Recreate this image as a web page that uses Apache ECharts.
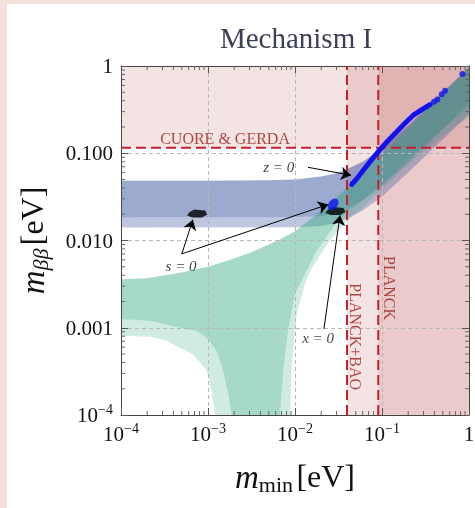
<!DOCTYPE html>
<html><head><meta charset="utf-8">
<script src="https://cdn.jsdelivr.net/npm/echarts@6/dist/echarts.min.js"></script>
<style>
html,body{margin:0;padding:0;background:#f3e1dd;width:475px;height:508px;overflow:hidden}
#c{position:absolute;left:7px;top:4px;width:468px;height:504px;background:#fff}
</style></head><body><div id="c"></div>
<script>
// ---------- axes / ticks ----------
const xTicks = [1e-4, 1e-3, 1e-2, 1e-1, 1];
const xTickLabels = ['10^-4', '10^-3', '10^-2', '10^-1', '1'];
const yTicks = [1e-4, 1e-3, 1e-2, 1e-1, 1];
const yTickLabels = ['10^-4', '0.001', '0.010', '0.100', '1'];
const minorFactors = [2, 3, 4, 5, 6, 7, 8, 9];
const decades = [1e-4, 1e-3, 1e-2, 1e-1];

// ---------- experimental limits ----------
const cuoreLimit = 0.116;      // m_bb upper limit (CUORE & GERDA)
const planckBaoLimit = 0.0396; // m_min limit (PLANCK+BAO)
const planckLimit = 0.0906;    // m_min limit (PLANCK)

// ---------- normal ordering band (green) ----------
const noTop = [[1e-4,0.0036],[2e-4,0.0037],[5e-4,0.0043],[1e-3,0.005],[2e-3,0.0062],[3e-3,0.0072],[5e-3,0.009],[7e-3,0.0105],[1e-2,0.0128],[1.5e-2,0.0175],[2e-2,0.022],[3e-2,0.031],[4e-2,0.041],[6e-2,0.06],[0.1,0.099],[0.2,0.195],[0.5,0.48],[1,0.95]];
const noDarkRight = [[0.0067,1e-4],[0.0073,3.2e-4],[0.0083,9.2e-4],[0.01,0.00246],[0.0114,0.0032],[0.0178,0.0077],[0.0274,0.0142],[0.039,0.021],[0.06,0.029],[0.1,0.045],[0.2,0.085],[0.5,0.19],[1,0.34]];
const noDarkLeft = [[1e-4,0.00126],[2.15e-4,0.0012],[4.77e-4,0.001],[7.4e-4,9.2e-4],[9.7e-4,7.7e-4],[1.26e-3,5.4e-4],[1.5e-3,3.2e-4],[1.71e-3,1.74e-4],[1.87e-3,1e-4]];
const noLightRight = [[0.0088,1e-4],[0.0092,3.9e-4],[0.0105,0.00145],[0.013,0.0032],[0.0149,0.0045],[0.025,0.01],[0.039,0.0163],[0.06,0.024],[0.095,0.0376],[0.227,0.083],[0.5,0.16],[1,0.26]];
const noLightLeft = [[1e-4,8.1e-4],[2.15e-4,7.9e-4],[3.35e-4,7.1e-4],[4.77e-4,5.9e-4],[6.7e-4,5.0e-4],[9.7e-4,3.2e-4],[1.1e-3,1.9e-4],[1.2e-3,1e-4]];

// ---------- inverted ordering band (blue) ----------
const ioTop = [[1e-4,0.0485],[1e-3,0.0485],[5e-3,0.049],[1e-2,0.05],[2e-2,0.054],[3e-2,0.059],[4e-2,0.066],[6e-2,0.08],[0.1,0.113],[0.2,0.21],[0.5,0.5],[1,0.97]];
const ioDarkBottom = [[1e-4,0.0185],[1e-2,0.0186],[2e-2,0.019],[3e-2,0.021],[4e-2,0.023],[6e-2,0.029],[0.1,0.042],[0.2,0.079],[0.5,0.19],[1,0.38]];
const ioLightBottom = [[1e-4,0.0141],[1e-2,0.0142],[2e-2,0.0147],[3e-2,0.016],[4e-2,0.018],[6e-2,0.022],[0.1,0.032],[0.2,0.06],[0.5,0.145],[1,0.28]];

// ---------- model points ----------
const zLine = [[0.0449,0.044],[0.052,0.052],[0.061,0.0638],[0.075,0.083],[0.0948,0.110],[0.12,0.143],[0.1476,0.176],[0.185,0.222],[0.229,0.273],[0.29,0.318],[0.356,0.36]];
const zDots = [[0.396,0.389],[0.432,0.414],[0.486,0.473],[0.53,0.52],[0.84,0.81]];
const blueBlob = [[0.0274,0.026]];
const blackBlobs = [[7.5e-4,0.0204],[0.0292,0.0218]];

// ---------- annotations ----------
const arrows = [
  [[0.0141,0.069],[0.044,0.056]],
  [[5.0e-4,0.00703],[6.7e-4,0.0173]],
  [[5.0e-4,0.00703],[0.024,0.0259]],
  [[0.0215,9.7e-4],[0.0329,0.0194]]
];
const arrowTexts = [['z = 0',6.5e-3,0.0683],['s = 0',4.9e-4,5.0e-3],['x = 0',0.0184,7.5e-4]];
const limitTexts = [['CUORE & GERDA',1.57e-3,0.141,0],['PLANCK+BAO',0.0476,7.9e-4,-90],['PLANCK',0.117,2.85e-3,-90]];

const FONT = '"Liberation Serif", "DejaVu Serif", serif';
function tex(s){
  const p = s.replace('-', '\u2212').split('^');
  return p.length > 1 ? '{b|' + p[0] + '}{e|' + p[1] + '}' : '{b|' + s + '}';
}
function fmt(ticks, labels){
  return function(v){
    const i = ticks.findIndex(t => Math.abs(Math.log10(t) - Math.log10(v)) < 1e-6);
    return i >= 0 ? tex(labels[i]) : '';
  };
}
const tickRich = {
  b: {fontSize: 21, fontFamily: FONT, color: '#111', lineHeight: 24, verticalAlign: 'bottom'},
  e: {fontSize: 14, fontFamily: FONT, color: '#111', lineHeight: 14, verticalAlign: 'top'}
};
function poly(points, color){
  return function(params, api){
    return {type: 'polygon', shape: {points: points.map(p => api.coord(p))}, style: {fill: color}};
  };
}
const rev = a => a.slice().reverse();
const noDark = noTop.concat(rev(noDarkRight), rev(noDarkLeft));
const noLight = noTop.concat(rev(noLightRight), rev(noLightLeft));
const ioDark = ioTop.concat(rev(ioDarkBottom));
const ioLight = ioTop.concat(rev(ioLightBottom));
const X0 = xTicks[0], X1 = xTicks[xTicks.length-1], Y0 = yTicks[0], Y1 = yTicks[yTicks.length-1];
const cuoreRegion = [[X0,cuoreLimit],[X1,cuoreLimit],[X1,Y1],[X0,Y1]];
const baoRegion = [[planckBaoLimit,Y0],[X1,Y0],[X1,Y1],[planckBaoLimit,Y1]];
const planckRegion = [[planckLimit,Y0],[X1,Y0],[X1,Y1],[planckLimit,Y1]];
const PINK = 'rgba(170,40,40,0.13)';

const minorVals = [];
decades.forEach(d => minorFactors.forEach(f => minorVals.push([f*d, f*d])));

function customPoly(points, color, z){
  return {type: 'custom', renderItem: poly(points, color), data: [[0.01, 0.01]], z: z, silent: true};
}
const redLine = {color: '#c4202a', width: 2, type: [10, 5]};

const axisCommon = {
  type: 'log', logBase: 10, min: 1e-4, max: 1, z: 5,
  axisLine: {show: true, lineStyle: {color: '#444', width: 1}},
  axisTick: {show: true, inside: true, length: 7, lineStyle: {color: '#555'}},
  splitLine: {show: false}
};
const nameRich = function(subItalic){
  return {
    i: {fontSize: 33, fontFamily: FONT, fontStyle: 'italic', color: '#111', lineHeight: 36},
    s: {fontSize: 22, fontFamily: FONT, fontStyle: subItalic ? 'italic' : 'normal', color: '#111', lineHeight: 22, verticalAlign: 'bottom'},
    n: {fontSize: 32, fontFamily: FONT, color: '#111', lineHeight: 36}
  };
};

const chart = echarts.init(document.getElementById('c'), null, {renderer: 'canvas'});
chart.setOption({
  animation: false,
  backgroundColor: '#fff',
  grid: {left: 114, top: 62, width: 348, height: 349, containLabel: false, outerBoundsMode: 'none'},
  graphic: [{type: 'text', x: 289, y: 36, style: {text: 'Mechanism I', font: '29px ' + FONT, fill: '#3d3f57', align: 'center', verticalAlign: 'middle'}}],
  xAxis: [
    Object.assign({}, axisCommon, {
      position: 'bottom',
      axisLabel: {formatter: fmt(xTicks, xTickLabels), rich: tickRich, margin: 7},
      splitLine: {show: true, lineStyle: {color: '#b8b8b8', type: [4, 3], width: 1}},
      name: '{i|m}{s|min} {n|[eV]}', nameLocation: 'middle', nameGap: 46,
      nameTextStyle: {rich: nameRich(false)}
    }),
    Object.assign({}, axisCommon, {position: 'top', axisLabel: {show: false}})
  ],
  yAxis: [
    Object.assign({}, axisCommon, {
      position: 'left',
      axisLabel: {formatter: fmt(yTicks, yTickLabels), rich: tickRich, margin: 8},
      splitLine: {show: true, lineStyle: {color: '#b8b8b8', type: [4, 3], width: 1}},
      name: '{i|m}{s|\u03b2\u03b2} {n|[eV]}', nameLocation: 'middle', nameGap: 68,
      nameTextStyle: {rich: nameRich(true)}
    }),
    Object.assign({}, axisCommon, {position: 'right', axisLabel: {show: false}})
  ],
  series: [
    customPoly(cuoreRegion, PINK, 1),
    customPoly(baoRegion, PINK, 1),
    customPoly(planckRegion, PINK, 1),
    customPoly(ioLight, 'rgba(40,70,150,0.30)', 2),
    customPoly(ioDark, 'rgba(40,70,150,0.22)', 2),
    customPoly(noLight, 'rgba(40,165,120,0.22)', 3),
    customPoly(noDark, 'rgba(40,165,120,0.25)', 3),
    {type: 'custom', silent: true, z: 6, data: minorVals, renderItem: function(params, api){
      const v = api.value(0);
      const b = api.coord([v, Y0]), t = api.coord([v, Y1]);
      const l = api.coord([X0, v]), r = api.coord([X1, v]);
      const st = {stroke: '#666', lineWidth: 1};
      return {type: 'group', children: [
        {type: 'line', shape: {x1: b[0], y1: b[1], x2: b[0], y2: b[1]-4}, style: st},
        {type: 'line', shape: {x1: t[0], y1: t[1], x2: t[0], y2: t[1]+4}, style: st},
        {type: 'line', shape: {x1: l[0], y1: l[1], x2: l[0]+4, y2: l[1]}, style: st},
        {type: 'line', shape: {x1: r[0], y1: r[1], x2: r[0]-4, y2: r[1]}, style: st}
      ]};
    }},
    {type: 'line', z: 7, symbol: 'none', silent: true, lineStyle: redLine, data: [[X0, cuoreLimit],[X1, cuoreLimit]]},
    {type: 'line', z: 7, symbol: 'none', silent: true, lineStyle: redLine, data: [[planckBaoLimit, Y0],[planckBaoLimit, Y1]]},
    {type: 'line', z: 7, symbol: 'none', silent: true, lineStyle: redLine, data: [[planckLimit, Y0],[planckLimit, Y1]]},
    {type: 'line', z: 10, symbol: 'none', silent: true, lineStyle: {color: '#1212f0', width: 5, cap: 'round'}, data: zLine},
    {type: 'scatter', z: 10, silent: true, symbol: 'circle', symbolSize: 6, itemStyle: {color: '#1212f0'}, data: zDots},
    {type: 'scatter', z: 10, silent: true, symbol: 'path://M2,3 L7,0 L18,1 L20,5 L15,8 L5,8 L0,6 Z', symbolSize: [20, 8], itemStyle: {color: '#000'}, data: blackBlobs},
    {type: 'scatter', z: 11, silent: true, symbol: 'circle', symbolSize: [9, 13], symbolRotate: -40, itemStyle: {color: '#1212f0'}, data: blueBlob},
    {type: 'lines', coordinateSystem: 'cartesian2d', z: 12, silent: true, symbol: ['none', 'arrow'], symbolSize: 10,
      lineStyle: {color: '#000', width: 1, opacity: 1}, data: arrows.map(a => ({coords: a}))},
    {type: 'scatter', z: 12, silent: true, symbolSize: 0,
      data: arrowTexts.map(t => ({value: [t[1], t[2]], name: t[0]})),
      label: {show: true, position: 'inside', formatter: '{b}', fontFamily: FONT, fontStyle: 'italic', fontSize: 15, color: '#111'}},
    {type: 'scatter', z: 12, silent: true, symbolSize: 0,
      data: limitTexts.map(t => ({value: [t[1], t[2]], name: t[0], label: {rotate: t[3]}})),
      label: {show: true, position: 'inside', formatter: '{b}', fontFamily: FONT, fontSize: 16, color: '#9b1b1b'}}
  ]
});
</script></body></html>
